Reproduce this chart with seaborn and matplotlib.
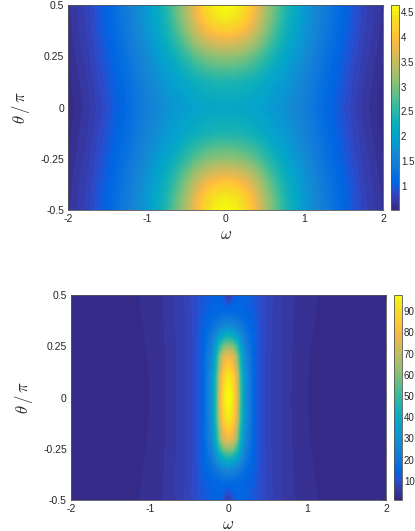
import numpy as np
import matplotlib
matplotlib.use("Agg")
import matplotlib.pyplot as plt
from matplotlib.colors import ListedColormap
import seaborn as sns

# ---------------- data ----------------
# top panel: one quadrant (theta >= 0, omega >= 0), mirrored in both axes
top_omega = [0, 0.125, 0.25, 0.375, 0.5, 0.75, 1.0, 1.25, 1.5, 1.75, 2.0]
top_theta = [0, 0.125, 0.25, 0.3125, 0.375, 0.4375, 0.5]
top_values = [
    [2.10, 2.09, 2.06, 2.00, 1.92, 1.72, 1.45, 1.15, 0.89, 0.67, 0.53],
    [2.40, 2.38, 2.33, 2.24, 2.12, 1.84, 1.52, 1.20, 0.93, 0.70, 0.55],
    [3.10, 3.07, 2.97, 2.80, 2.55, 2.06, 1.65, 1.28, 0.98, 0.74, 0.57],
    [3.62, 3.57, 3.42, 3.17, 2.82, 2.20, 1.72, 1.33, 1.01, 0.76, 0.59],
    [4.12, 4.05, 3.85, 3.50, 3.05, 2.32, 1.78, 1.37, 1.04, 0.78, 0.60],
    [4.48, 4.40, 4.15, 3.75, 3.22, 2.40, 1.82, 1.40, 1.06, 0.79, 0.61],
    [4.62, 4.55, 4.28, 3.85, 3.30, 2.45, 1.85, 1.42, 1.07, 0.80, 0.62],
]
top_clim = [0.51, 4.65]
top_cticks = [1, 1.5, 2, 2.5, 3, 3.5, 4, 4.5]

# bottom panel: one quadrant, mirrored in both axes
bot_omega = [0, 0.05, 0.1, 0.15, 0.2, 0.3, 0.4, 0.5, 0.75, 1.0, 1.5, 2.0]
bot_theta = [0, 0.1, 0.2, 0.25, 0.3, 0.35, 0.4, 0.45, 0.5]
bot_values = [
    [97.5, 92.7, 76.3, 49.4, 32.0, 15.6, 9.9, 7.40, 4.30, 2.50, 1.50, 1.20],
    [93.6, 88.8, 73.4, 47.4, 31.1, 15.6, 9.9, 7.42, 4.32, 2.52, 1.51, 1.20],
    [78.2, 74.4, 61.9, 41.6, 28.2, 15.6, 9.9, 7.46, 4.36, 2.56, 1.53, 1.21],
    [60.9, 58.0, 49.4, 35.9, 25.3, 14.7, 9.9, 7.50, 4.40, 2.60, 1.55, 1.21],
    [41.6, 39.7, 34.9, 28.2, 21.4, 14.7, 9.9, 7.54, 4.44, 2.64, 1.57, 1.22],
    [26.2, 25.3, 23.3, 20.5, 17.6, 13.7, 9.9, 7.58, 4.48, 2.68, 1.59, 1.22],
    [17.6, 17.6, 16.6, 15.6, 14.7, 12.8, 9.9, 7.62, 4.52, 2.72, 1.61, 1.23],
    [10.8, 12.8, 14.7, 14.7, 13.7, 11.8, 9.9, 7.66, 4.56, 2.76, 1.63, 1.23],
    [3.1, 7.9, 12.8, 13.7, 13.7, 11.8, 9.9, 7.70, 4.60, 2.80, 1.65, 1.24],
]
bot_clim = [1.0, 97.6]
bot_cticks = [10, 20, 30, 40, 50, 60, 70, 80, 90]

x_ticks = [-2, -1, 0, 1, 2]
y_ticks = [-0.5, -0.25, 0, 0.25, 0.5]
y_ticklabels = ["-0.5", "-0.25", "0", "0.25", "0.5"]
x_label = r"$\omega$"
y_label = r"$\theta\,/\,\pi$"

# parula colormap (64 colours)
parula = [[0.2081, 0.1663, 0.5292], [0.2116, 0.1898, 0.5777], [0.2123, 0.2138, 0.6270],
          [0.2081, 0.2386, 0.6771], [0.1959, 0.2645, 0.7279], [0.1707, 0.2919, 0.7792],
          [0.1253, 0.3242, 0.8303], [0.0591, 0.3598, 0.8683], [0.0117, 0.3875, 0.8820],
          [0.0060, 0.4086, 0.8828], [0.0165, 0.4266, 0.8786], [0.0329, 0.4430, 0.8720],
          [0.0498, 0.4586, 0.8641], [0.0629, 0.4737, 0.8554], [0.0723, 0.4887, 0.8467],
          [0.0779, 0.5040, 0.8384], [0.0793, 0.5200, 0.8312], [0.0749, 0.5375, 0.8263],
          [0.0641, 0.5570, 0.8240], [0.0488, 0.5772, 0.8228], [0.0343, 0.5966, 0.8199],
          [0.0265, 0.6137, 0.8135], [0.0239, 0.6287, 0.8038], [0.0231, 0.6418, 0.7913],
          [0.0228, 0.6535, 0.7768], [0.0267, 0.6642, 0.7607], [0.0384, 0.6743, 0.7436],
          [0.0590, 0.6838, 0.7254], [0.0843, 0.6928, 0.7062], [0.1133, 0.7015, 0.6859],
          [0.1453, 0.7098, 0.6646], [0.1801, 0.7177, 0.6424], [0.2178, 0.7250, 0.6193],
          [0.2586, 0.7317, 0.5954], [0.3022, 0.7376, 0.5712], [0.3482, 0.7424, 0.5473],
          [0.3953, 0.7459, 0.5244], [0.4420, 0.7481, 0.5033], [0.4871, 0.7491, 0.4840],
          [0.5300, 0.7491, 0.4661], [0.5709, 0.7485, 0.4494], [0.6099, 0.7473, 0.4337],
          [0.6473, 0.7456, 0.4188], [0.6834, 0.7435, 0.4044], [0.7184, 0.7411, 0.3905],
          [0.7525, 0.7384, 0.3768], [0.7858, 0.7356, 0.3633], [0.8185, 0.7327, 0.3498],
          [0.8507, 0.7299, 0.3360], [0.8824, 0.7274, 0.3217], [0.9139, 0.7258, 0.3063],
          [0.9450, 0.7261, 0.2886], [0.9739, 0.7314, 0.2666], [0.9938, 0.7455, 0.2403],
          [0.9990, 0.7653, 0.2164], [0.9955, 0.7861, 0.1967], [0.9880, 0.8066, 0.1794],
          [0.9789, 0.8271, 0.1633], [0.9697, 0.8481, 0.1475], [0.9626, 0.8705, 0.1309],
          [0.9589, 0.8949, 0.1132], [0.9598, 0.9218, 0.0948], [0.9661, 0.9514, 0.0755],
          [0.9763, 0.9831, 0.0538]]

# ---------------- style ----------------
sns.set_theme(style="white")
plt.rcParams["font.family"] = ["Liberation Sans", "DejaVu Sans"]
plt.rcParams["axes.unicode_minus"] = False
plt.rcParams["mathtext.fontset"] = "cm"
cmap = ListedColormap(sns.color_palette(parula))

FRAME = "#555555"
TXT = "#262626"


def mirror(omega, theta, values):
    om = np.asarray(omega, float)
    th = np.asarray(theta, float)
    z = np.asarray(values, float)
    om_full = np.concatenate([-om[::-1], om[1:]])
    th_full = np.concatenate([-th[::-1], th[1:]])
    z = np.concatenate([z[::-1], z[1:]], axis=0)
    z = np.concatenate([z[:, ::-1], z[:, 1:]], axis=1)
    return om_full, th_full, z


def panel(fig, ax_rect, cb_rect, omega, theta, values, clim, cticks):
    ax = fig.add_axes(ax_rect)
    cax = fig.add_axes(cb_rect)
    om, th, z = mirror(omega, theta, values)
    levels = np.linspace(clim[0], clim[1], 65)
    cs = ax.contourf(om, th, z, levels=levels, cmap=cmap, antialiased=False)
    cs.set_edgecolor("face")
    cs.set_linewidth(0.4)
    ax.set_xlim(-2, 2)
    ax.set_ylim(-0.5, 0.5)
    ax.set_xticks(x_ticks)
    ax.set_xticklabels([str(t) for t in x_ticks])
    ax.set_yticks(y_ticks)
    ax.set_yticklabels(y_ticklabels)
    ax.tick_params(direction="in", length=3, width=0.5, colors=FRAME,
                   labelcolor=TXT, labelsize=7.5, top=True, right=True,
                   pad=3)
    for s in ax.spines.values():
        s.set_color(FRAME)
        s.set_linewidth(0.6)
        s.set_visible(True)
    ax.set_xlabel(x_label, fontsize=12, color=TXT)
    ax.set_ylabel(y_label, fontsize=12, color=TXT)
    ax.xaxis.set_label_coords(0.5, -0.085)
    ax.yaxis.set_label_coords(-0.115, 0.5)

    cb = fig.colorbar(cs, cax=cax)
    cb.set_ticks(cticks)
    cb.ax.set_yticklabels([f"{t:g}" for t in cticks])
    cb.ax.tick_params(direction="in", length=2.5, width=0.5, colors=FRAME,
                      labelcolor=TXT, labelsize=7, pad=1.5)
    cb.outline.set_edgecolor(FRAME)
    cb.outline.set_linewidth(0.6)
    return ax


fig = plt.figure(figsize=(4.15, 5.31), dpi=100)
panel(fig, [0.1646, 0.6045, 0.7584, 0.386], [0.942, 0.6045, 0.0193, 0.386],
      top_omega, top_theta, top_values, top_clim, top_cticks)
panel(fig, [0.1711, 0.0584, 0.759, 0.386], [0.949, 0.0584, 0.0193, 0.386],
      bot_omega, bot_theta, bot_values, bot_clim, bot_cticks)

fig.savefig("out.png", dpi=100)
